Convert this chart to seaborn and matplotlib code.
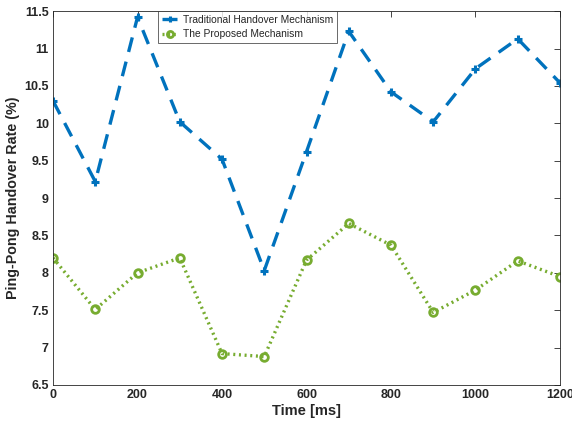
import seaborn as sns
import matplotlib.pyplot as plt
import pandas as pd

# datos
tiempo_ms = [0, 100, 200, 300, 400, 500, 600, 700, 800, 900, 1000, 1100, 1200]
tradicional = [10.3, 9.22, 11.42, 10.02, 9.52, 8.03, 9.62, 11.23, 10.42, 10.02, 10.73, 11.13, 10.54]
propuesto = [8.2, 7.51, 8.0, 8.2, 6.92, 6.88, 8.17, 8.66, 8.37, 7.47, 7.77, 8.16, 7.95]

y_ticks = [6.5, 7, 7.5, 8, 8.5, 9, 9.5, 10, 10.5, 11, 11.5]
y_labels = ["6.5", "7", "7.5", "8", "8.5", "9", "9.5", "10", "10.5", "11", "11.5"]
x_ticks = [0, 200, 400, 600, 800, 1000, 1200]

sns.set_style("white")
plt.rcParams["font.family"] = ["Liberation Sans", "DejaVu Sans"]

df_trad = pd.DataFrame({"t": tiempo_ms, "rate": tradicional})
df_prop = pd.DataFrame({"t": tiempo_ms, "rate": propuesto})

azul = "#0072BD"
verde = "#77AC30"

fig = plt.figure(figsize=(5.72, 4.28), dpi=100)
ax = fig.add_axes([0.0927, 0.1005, 0.8863, 0.8735])

sns.lineplot(data=df_trad, x="t", y="rate", ax=ax, color=azul,
             linewidth=2.4, marker="+", markersize=6, markeredgewidth=2.2,
             markeredgecolor=azul, label="Traditional Handover Mechanism")
ax.lines[-1].set_dashes([4.5, 3])

sns.lineplot(data=df_prop, x="t", y="rate", ax=ax, color=verde,
             linewidth=2.4, marker="o", markersize=5.5, markeredgewidth=2,
             markeredgecolor=verde, markerfacecolor="none",
             label="The Proposed Mechanism")
ax.lines[-1].set_dashes([0.6, 1.1])

ax.set_xlim(0, 1200)
ax.set_ylim(6.5, 11.5)
ax.set_xticks(x_ticks)
ax.set_yticks(y_ticks)
ax.set_yticklabels(y_labels)
ax.tick_params(direction="in", length=4, width=0.6, colors="#262626",
               top=True, right=True, labelsize=9, pad=3)
for lbl in ax.get_xticklabels() + ax.get_yticklabels():
    lbl.set_fontweight("bold")
for sp in ax.spines.values():
    sp.set_color("#262626")
    sp.set_linewidth(0.6)

ax.set_xlabel("Time [ms]", fontsize=10.5, fontweight="bold", color="#262626", labelpad=2)
ax.set_ylabel("Ping-Pong Handover Rate (%)", fontsize=10.3, fontweight="bold",
              color="#262626", labelpad=3)

leg = ax.legend(loc="upper left", bbox_to_anchor=(0.207, 1.0), borderaxespad=0,
                fontsize=7.4, frameon=True, fancybox=False, handlelength=1.7,
                borderpad=0.35, labelspacing=0.45, handletextpad=0.4,
                markerscale=0.8)
leg.get_frame().set_edgecolor("#262626")
leg.get_frame().set_linewidth(0.6)

plt.savefig("out.png", dpi=100)
